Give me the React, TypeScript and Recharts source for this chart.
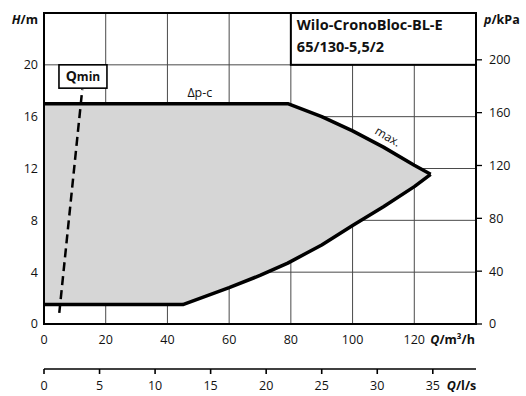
import {
  ComposedChart,
  Area,
  Line,
  XAxis,
  YAxis,
  CartesianGrid,
  ReferenceArea,
  ReferenceDot,
} from 'recharts';

// Q in m³/h, H in m
const flow = [0, 45, 60, 70, 79, 90, 100, 110, 120, 125.3];
const headMax = [17, 17, 17, 17, 17, 16.0, 14.9, 13.65, 12.25, 11.55];
const headMin = [1.5, 1.5, 2.8, 3.75, 4.7, 6.1, 7.6, 9.05, 10.6, 11.55];

const qminFlow = [4.95, 12.4];
const qminHead = [0.85, 18.1];

const flowTicks = [0, 20, 40, 60, 80, 100, 120];
const litreTicks = [0, 5, 10, 15, 20, 25, 30, 35];
const headTicks = [0, 4, 8, 12, 16, 20];
const kpaTicks = [0, 40, 80, 120, 160, 200];

const Q_MAX = 140;
const H_MAX = 24;
const M3H_PER_LS = 3.6;
const KPA_PER_M = 9.81;

const data = flow.map((q, i) => ({
  q,
  low: headMin[i],
  high: headMax[i],
  range: [headMin[i], headMax[i]],
}));
const qminData = qminFlow.map((q, i) => ({ q, h: qminHead[i] }));

const FONT = '"Open Sans", "DejaVu Sans", sans-serif';
const GRID = '#4a4a4a';

const FlowTick = ({ x, y, payload }: any) => (
  <g>
    <text x={x} y={y} dy="0.71em" textAnchor="middle" fontSize={12.5} fill="#111" fontFamily={FONT}>
      {payload.value}
    </text>
    {payload.value === 120 && (
      <text x={x + 16} y={y} dy="0.71em" fontSize={12.5} fontWeight={700} fill="#111" fontFamily={FONT}>
        <tspan fontStyle="italic">Q</tspan>/m³/h
      </text>
    )}
  </g>
);

const LitreTick = ({ x, y, payload }: any) => {
  const ls = Math.round(payload.value / M3H_PER_LS);
  return (
    <g>
      <text x={x} y={y} dy="0.71em" textAnchor="middle" fontSize={12.5} fill="#111" fontFamily={FONT}>
        {ls}
      </text>
      {ls === 35 && (
        <text x={x + 14} y={y} dy="0.71em" fontSize={12.5} fontWeight={700} fill="#111" fontFamily={FONT}>
          <tspan fontStyle="italic">Q</tspan>/l/s
        </text>
      )}
    </g>
  );
};

export default function App() {
  return (
    <div style={{ position: 'absolute', left: 0, top: 0, background: '#fff' }}>
      <ComposedChart
        width={526}
        height={396}
        data={data}
        margin={{ top: 13, right: 0, bottom: 0, left: 0 }}
      >
        <CartesianGrid stroke={GRID} strokeWidth={1} />
        <XAxis
          dataKey="q"
          type="number"
          domain={[0, Q_MAX]}
          ticks={flowTicks}
          allowDataOverflow
          axisLine={false}
          tickLine={false}
          tickSize={0}
          tickMargin={11}
          height={45}
          tick={<FlowTick />}
        />
        <XAxis
          xAxisId="ls"
          dataKey="q"
          type="number"
          domain={[0, Q_MAX]}
          ticks={litreTicks.map((l) => l * M3H_PER_LS)}
          allowDataOverflow
          axisLine={{ stroke: '#000', strokeWidth: 1.6 }}
          tickLine={{ stroke: '#000', strokeWidth: 1.6 }}
          tickSize={5}
          tickMargin={7}
          height={27}
          tick={<LitreTick />}
        />
        <YAxis
          type="number"
          domain={[0, H_MAX]}
          ticks={headTicks}
          allowDataOverflow
          axisLine={false}
          tickLine={false}
          tickSize={0}
          tickMargin={6}
          width={44}
          tick={{ fontSize: 12.5, fill: '#111', fontFamily: FONT }}
        />
        <YAxis
          yAxisId="p"
          orientation="right"
          type="number"
          domain={[0, H_MAX * KPA_PER_M]}
          ticks={kpaTicks}
          allowDataOverflow
          axisLine={false}
          tickLine={{ stroke: '#000', strokeWidth: 1.3 }}
          tickSize={6}
          tickMargin={7}
          width={50}
          tick={{ fontSize: 12.5, fill: '#111', fontFamily: FONT, textAnchor: 'start' }}
        />
        <Area
          dataKey="range"
          type="linear"
          fill="#d6d6d6"
          fillOpacity={1}
          stroke="none"
          isAnimationActive={false}
        />
        {/* invisible series so the l/s axis gets its own scale */}
        <Line
          xAxisId="ls"
          dataKey="high"
          stroke="none"
          dot={false}
          activeDot={false}
          isAnimationActive={false}
        />
        <ReferenceArea x1={0} x2={Q_MAX} y1={0} y2={H_MAX} fill="none" stroke="#000" strokeWidth={2} />
        <Line
          dataKey="high"
          type="linear"
          stroke="#000"
          strokeWidth={3.5}
          strokeLinejoin="round"
          dot={false}
          isAnimationActive={false}
        />
        <Line
          dataKey="low"
          type="linear"
          stroke="#000"
          strokeWidth={3.5}
          strokeLinejoin="round"
          dot={false}
          isAnimationActive={false}
        />
        <Line
          data={qminData}
          dataKey="h"
          type="linear"
          stroke="#000"
          strokeWidth={2.5}
          strokeDasharray="9 5"
          dot={false}
          isAnimationActive={false}
        />
        <ReferenceArea
          x1={4.85}
          x2={20.4}
          y1={18.2}
          y2={20}
          shape={(p: any) => (
            <g>
              <rect x={p.x} y={p.y} width={p.width} height={p.height} fill="#fff" stroke="#000" strokeWidth={1.6} />
              <text
                x={p.x + p.width / 2}
                y={p.y + p.height / 2 + 5}
                textAnchor="middle"
                fontFamily={FONT}
                fontWeight={700}
                fill="#111"
              >
                <tspan fontSize={14}>Q</tspan>
                <tspan fontSize={12}>min</tspan>
              </text>
            </g>
          )}
        />
        <ReferenceArea
          x1={80}
          x2={Q_MAX}
          y1={20}
          y2={H_MAX}
          shape={(p: any) => (
            <g>
              <rect x={p.x} y={p.y} width={p.width} height={p.height} fill="#fff" stroke="#000" strokeWidth={2} />
              <text x={p.x + 6} y={p.y + 17} fontFamily={FONT} fontWeight={700} fontSize={14.5} fill="#111">
                Wilo-CronoBloc-BL-E
              </text>
              <text x={p.x + 6} y={p.y + 39} fontFamily={FONT} fontWeight={700} fontSize={14.5} fill="#111">
                65/130-5,5/2
              </text>
            </g>
          )}
        />
        <ReferenceDot
          x={50.5}
          y={17.9}
          r={0}
          shape={(p: any) => (
            <text x={p.cx} y={p.cy + 4.5} textAnchor="middle" fontFamily={FONT} fontSize={12.5} fill="#111">
              Δp-c
            </text>
          )}
        />
        <ReferenceDot
          x={111.4}
          y={14.45}
          r={0}
          shape={(p: any) => (
            <text
              x={p.cx}
              y={p.cy + 4}
              textAnchor="middle"
              fontFamily={FONT}
              fontSize={12}
              fill="#111"
              transform={`rotate(31 ${p.cx} ${p.cy})`}
            >
              max.
            </text>
          )}
        />
        <ReferenceDot
          x={0}
          y={H_MAX}
          r={0}
          ifOverflow="visible"
          shape={(p: any) => (
            <text x={p.cx - 6} y={p.cy + 10.5} textAnchor="end" fontFamily={FONT} fontSize={12.5} fontWeight={700} fill="#111">
              <tspan fontStyle="italic">H</tspan>/m
            </text>
          )}
        />
        <ReferenceDot
          x={Q_MAX}
          y={H_MAX}
          r={0}
          ifOverflow="visible"
          shape={(p: any) => (
            <text x={p.cx + 8} y={p.cy + 10.5} fontFamily={FONT} fontSize={12.5} fontWeight={700} fill="#111">
              <tspan fontStyle="italic">p</tspan>/kPa
            </text>
          )}
        />
      </ComposedChart>
    </div>
  );
}
